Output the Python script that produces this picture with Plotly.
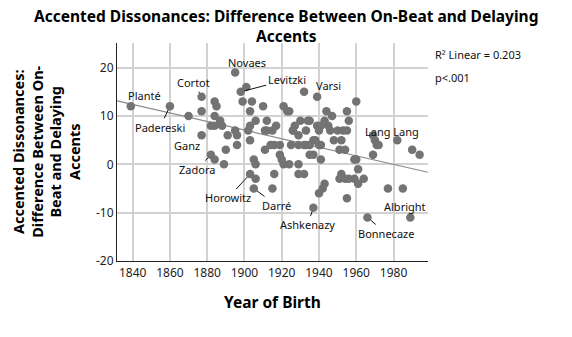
import plotly.graph_objects as go

# Pianist year of birth and accented-dissonance difference (on-beat minus delaying)
birth_year = [
    1839, 1860, 1870, 1877, 1877, 1877, 1882, 1884, 1889, 1884,
    1885, 1882, 1884, 1884, 1887, 1888, 1890, 1891, 1895, 1896,
    1896, 1895, 1898, 1901, 1899, 1904, 1903, 1902, 1903, 1905,
    1906, 1906, 1903, 1910, 1912, 1912, 1911, 1914, 1903, 1906,
    1905, 1916, 1915, 1917, 1919, 1919, 1920, 1924, 1921, 1923,
    1924, 1926, 1927, 1925, 1929, 1929, 1930, 1932, 1933, 1935,
    1932, 1937, 1938, 1939, 1939, 1941, 1941, 1940, 1935, 1937,
    1941, 1929, 1921, 1929, 1932, 1940, 1942, 1943, 1937, 1943,
    1945, 1944, 1947, 1946, 1950, 1953, 1955, 1948, 1952, 1951,
    1954, 1955, 1956, 1960, 1959, 1960, 1961, 1952, 1951, 1954,
    1956, 1959, 1961, 1964, 1955, 1966, 1969, 1970, 1971, 1972,
    1969, 1982, 1990, 1994, 1977, 1985, 1989, 1933, 1935, 1940,
    1926, 1915, 1911, 1916, 1934,
]
difference = [
    12, 12, 10, 14, 11, 6, 2, 1, 0, 13,
    12, 8, 10, 8, 9, 8, 3, 6, 7, 6,
    4, 19, 15, 16, 13, 13, 11, 7, 5, 1,
    0, 9, 8, 12, 9, 7, 3, 4, -2, -3,
    -5, -2, -5, 8, 4, 2, 1, 0, 12, 11,
    11, 7, 8, 4, 4, 6, 9, 15, 7, 9,
    4, 5, 5, 14, 8, 8, 4, 4, 2, 2,
    1, 0, 0, -2, -2, -6, -5, -4, -9, 9,
    8, 11, 10, 7, 7, 7, 7, 5, 5, 3,
    3, 11, 9, 13, 1, 1, -1, -2, -3, -3,
    -3, -3, -4, -3, -7, -11, 6, 5, 4, 4,
    2, 5, 3, 2, -5, -5, -11, 4, 4, 7,
    7, 7, 7, 4, 9,
]

# Named pianists and where their labels sit relative to the dot (pixels)
label_names = ["Planté", "Padereski", "Cortot", "Ganz", "Zadora", "Novaes",
               "Levitzki", "Varsi", "Lang Lang", "Horowitz", "Darré",
               "Ashkenazy", "Bonnecaze", "Albright"]
label_years = [1839, 1860, 1877, 1877, 1882, 1895, 1898, 1939, 1982, 1903,
               1905, 1937, 1966, 1989]
label_values = [12, 12, 14, 6, 2, 19, 15, 14, 5, -2, -5, -9, -11, -11]
label_dx = [14, -10, -8, -15, -14, 12, 46, 11, -5, -22, 23, -6, 19, -5]
label_dy = [-11, 21, -14, 10, 15, -10, -12, -11, -9, 24, 17, 17, 16, -11]

# Linear fit (R² = 0.203): fitted difference at the two end years
fit_years = [1840, 1980]
fit_values = [12.4, 0.0]

x_ticks = [1840, 1860, 1880, 1900, 1920, 1940, 1960, 1980]
y_ticks = [-20, -10, 0, 10, 20]

x_range = [1831.6, 1998.5]
y_range = [-20, 25.1]

# Extend the fitted line across the whole x range
fit_slope = (fit_values[1] - fit_values[0]) / (fit_years[1] - fit_years[0])
fit_x = x_range
fit_y = [fit_values[0] + fit_slope * (x - fit_years[0]) for x in fit_x]

label_font = dict(family="Noto Sans", size=11, color="#111111")
bold_font = "Noto Sans"

fig = go.Figure()
fig.add_trace(go.Scatter(
    x=fit_x, y=fit_y, mode="lines",
    line=dict(color="#8a8a8a", width=1.2),
    hoverinfo="skip", showlegend=False,
))
fig.add_trace(go.Scatter(
    x=birth_year, y=difference, mode="markers",
    marker=dict(color="#737373", size=8.5, line=dict(width=0)),
    showlegend=False,
))

annotations = []
for name, yr, val, dx, dy in zip(label_names, label_years, label_values, label_dx, label_dy):
    annotations.append(dict(
        x=yr, y=val, xref="x", yref="y", text=name, font=label_font,
        showarrow=True, arrowhead=0, arrowwidth=1, arrowcolor="#111111",
        ax=dx, ay=dy, standoff=4,
    ))

annotations += [
    dict(xref="paper", yref="paper", x=0.545, y=1.185, xanchor="center", yanchor="top",
         text="<b>Accented Dissonances: Difference Between On-Beat and Delaying<br>Accents</b>",
         showarrow=False, font=dict(family=bold_font, size=15.5, color="#000000")),
    dict(xref="paper", yref="paper", x=1.016, y=0.945, xanchor="left", yanchor="middle",
         text="R² Linear = 0.203", showarrow=False, font=label_font),
    dict(xref="paper", yref="paper", x=1.016, y=0.844, xanchor="left", yanchor="middle",
         text="p<.001", showarrow=False, font=label_font),
    dict(xref="paper", yref="paper", x=-0.229, y=0.5, xanchor="center", yanchor="middle",
         textangle=-90, showarrow=False,
         text="<b>Accented Dissonances:<br>Difference Between On-<br>Beat and Delaying<br>Accents</b>",
         font=dict(family=bold_font, size=14.5, color="#000000")),
    dict(xref="paper", yref="paper", x=0.5, y=-0.19, xanchor="center", yanchor="middle",
         text="<b>Year of Birth</b>", showarrow=False,
         font=dict(family=bold_font, size=15.5, color="#000000")),
]

fig.update_layout(
    width=572, height=337,
    margin=dict(l=117, r=144, t=43, b=76),
    paper_bgcolor="white", plot_bgcolor="white",
    annotations=annotations,
    xaxis=dict(
        range=x_range, tickvals=x_ticks, ticktext=[str(t) for t in x_ticks],
        showgrid=True, gridcolor="#d2d2d2", gridwidth=1.5,
        showline=True, linecolor="#222222", linewidth=1.2,
        zeroline=False, ticks="", tickfont=dict(family="Noto Sans", size=12, color="#222222"),
    ),
    yaxis=dict(
        range=y_range, tickvals=y_ticks, ticktext=[str(t) for t in y_ticks],
        showgrid=True, gridcolor="#d2d2d2", gridwidth=1.5,
        showline=True, linecolor="#222222", linewidth=1.2,
        zeroline=False, ticks="", tickfont=dict(family="Noto Sans", size=12, color="#222222"),
    ),
)

fig.write_html("out.html")
